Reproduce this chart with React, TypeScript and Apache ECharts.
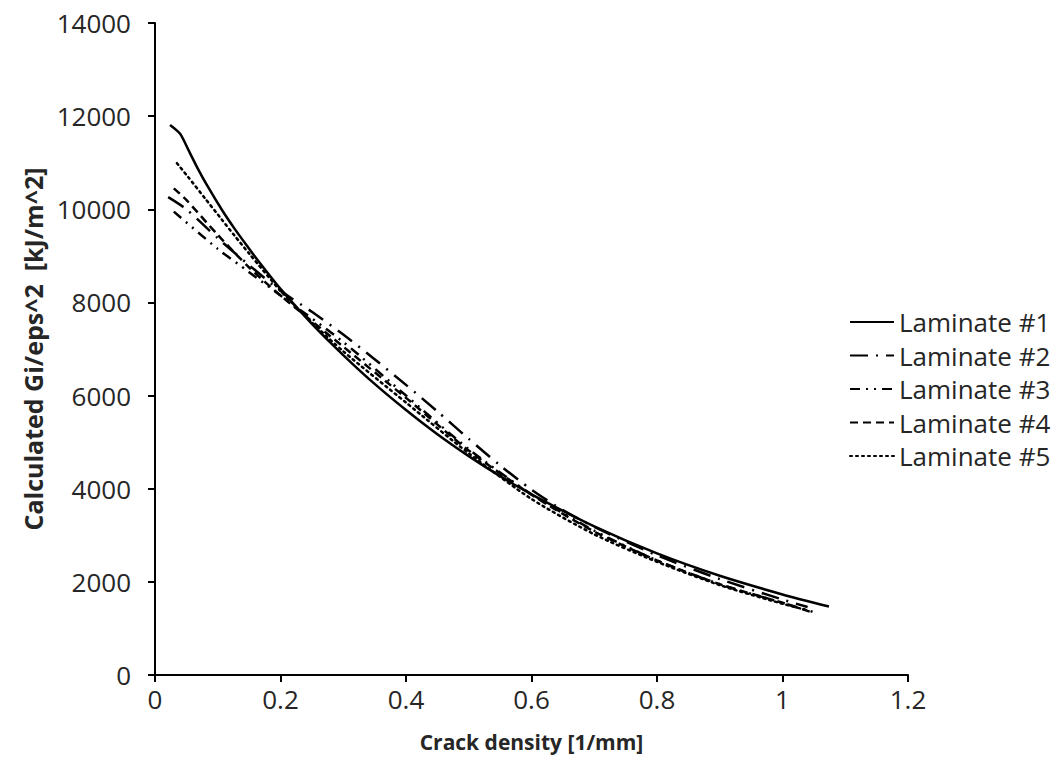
import React, { useEffect, useRef } from "react";
import * as echarts from "echarts";

const seriesNames = ["Laminate #1", "Laminate #2", "Laminate #3", "Laminate #4", "Laminate #5"];

const lam1X = [0.024, 0.04, 0.053, 0.068, 0.084, 0.107, 0.127, 0.148, 0.164, 0.2, 0.25, 0.3, 0.35, 0.4, 0.45, 0.5, 0.55, 0.6, 0.7, 0.8, 0.9, 1.0, 1.074];
const lam1Y = [11810, 11620, 11280, 10880, 10490, 9980, 9580, 9190, 8900, 8290, 7540, 6870, 6250, 5690, 5170, 4700, 4270, 3880, 3190, 2610, 2130, 1730, 1470];

const lam2X = [0.021, 0.05, 0.1, 0.15, 0.2, 0.25, 0.3, 0.35, 0.4, 0.45, 0.5, 0.55, 0.6, 0.65, 0.7, 0.8, 0.9, 1.0, 1.04];
const lam2Y = [10260, 10000, 9380, 8800, 8250, 7800, 7310, 6780, 6230, 5660, 5070, 4500, 3980, 3540, 3180, 2570, 2060, 1620, 1460];

const lam3X = [0.03, 0.1, 0.15, 0.2, 0.3, 0.4, 0.5, 0.6, 0.7, 0.8, 0.9, 1.0, 1.05];
const lam3Y = [9950, 9150, 8650, 8150, 7150, 6000, 4850, 3880, 3100, 2460, 1950, 1550, 1350];

const lam4X = [0.03, 0.05, 0.1, 0.15, 0.2, 0.3, 0.4, 0.5, 0.6, 0.7, 0.8, 0.9, 1.0, 1.05];
const lam4Y = [10450, 10200, 9450, 8750, 8150, 7050, 5950, 4820, 3870, 3080, 2460, 1950, 1550, 1330];

const lam5X = [0.035, 0.053, 0.08, 0.107, 0.127, 0.15, 0.2, 0.25, 0.3, 0.4, 0.5, 0.6, 0.7, 0.8, 0.9, 1.0, 1.04];
const lam5Y = [10990, 10690, 10230, 9770, 9430, 9050, 8250, 7570, 6950, 5850, 4760, 3780, 3020, 2430, 1930, 1530, 1390];

const xTicks = [0, 0.2, 0.4, 0.6, 0.8, 1, 1.2];
const yTicks = [0, 2000, 4000, 6000, 8000, 10000, 12000, 14000];

const allX = [lam1X, lam2X, lam3X, lam4X, lam5X];
const allY = [lam1Y, lam2Y, lam3Y, lam4Y, lam5Y];

const dashTypes: any[] = ["solid", [18, 8, 2, 8], [10, 6, 2, 6, 2, 6], [8, 5], [2, 4]];

const FONT = "'Open Sans', sans-serif";
const TEXT = "#262626";

export default function App() {
  const ref = useRef<HTMLDivElement>(null);
  useEffect(() => {
    if (!ref.current) return;
    const chart = echarts.init(ref.current, null, { renderer: "svg" });
    const series = seriesNames.map((name, i) => ({
      name,
      type: "line",
      showSymbol: false,
      symbol: "none",
      smooth: 0.25,
      data: allX[i].map((x, j) => [x, allY[i][j]]),
      lineStyle: { color: "#000", width: 2.5, type: dashTypes[i], cap: i === 4 ? "round" : "butt" },
      itemStyle: { color: "#000" },
    }));
    chart.setOption({
      animation: false,
      backgroundColor: "#fff",
      grid: { left: 155, top: 23, right: 152, bottom: 101, containLabel: false },
      legend: {
        orient: "vertical",
        left: 849,
        top: 309,
        padding: 0,
        itemWidth: 44,
        itemHeight: 14,
        itemGap: 7.5,
        itemStyle: { color: "transparent", borderColor: "transparent", borderWidth: 0 },
        textStyle: { fontFamily: FONT, fontSize: 26, color: TEXT },
        data: seriesNames,
      },
      xAxis: {
        type: "value",
        min: 0,
        max: 1.2,
        interval: 0.2,
        name: "Crack density [1/mm]",
        nameLocation: "middle",
        nameGap: 56,
        nameTextStyle: { fontFamily: FONT, fontSize: 21, fontWeight: "bold", color: TEXT },
        axisLine: { lineStyle: { color: "#000", width: 2 } },
        axisTick: { show: true, length: 7, lineStyle: { color: "#000", width: 2 } },
        axisLabel: {
          fontFamily: FONT,
          fontSize: 26,
          color: TEXT,
          margin: 11,
          formatter: (v: number) => {
            const t = xTicks.find((k) => Math.abs(k - v) < 1e-9);
            return t === undefined ? "" : String(t);
          },
        },
        splitLine: { show: false },
      },
      yAxis: {
        type: "value",
        min: 0,
        max: 14000,
        interval: 2000,
        name: "Calculated Gi/eps^2  [kJ/m^2]",
        nameLocation: "middle",
        nameGap: 110,
        nameTextStyle: { fontFamily: FONT, fontSize: 25, fontWeight: "bold", color: TEXT },
        axisLine: { show: true, lineStyle: { color: "#000", width: 2 } },
        axisTick: { show: true, length: 7, lineStyle: { color: "#000", width: 2 } },
        axisLabel: {
          fontFamily: FONT,
          fontSize: 26,
          color: TEXT,
          margin: 24,
          formatter: (v: number) => (yTicks.includes(v) ? String(v) : ""),
        },
        splitLine: { show: false },
      },
      series,
    });
    return () => chart.dispose();
  }, []);
  return <div ref={ref} style={{ width: 1060, height: 776, position: "absolute", left: 0, top: 0 }} />;
}
